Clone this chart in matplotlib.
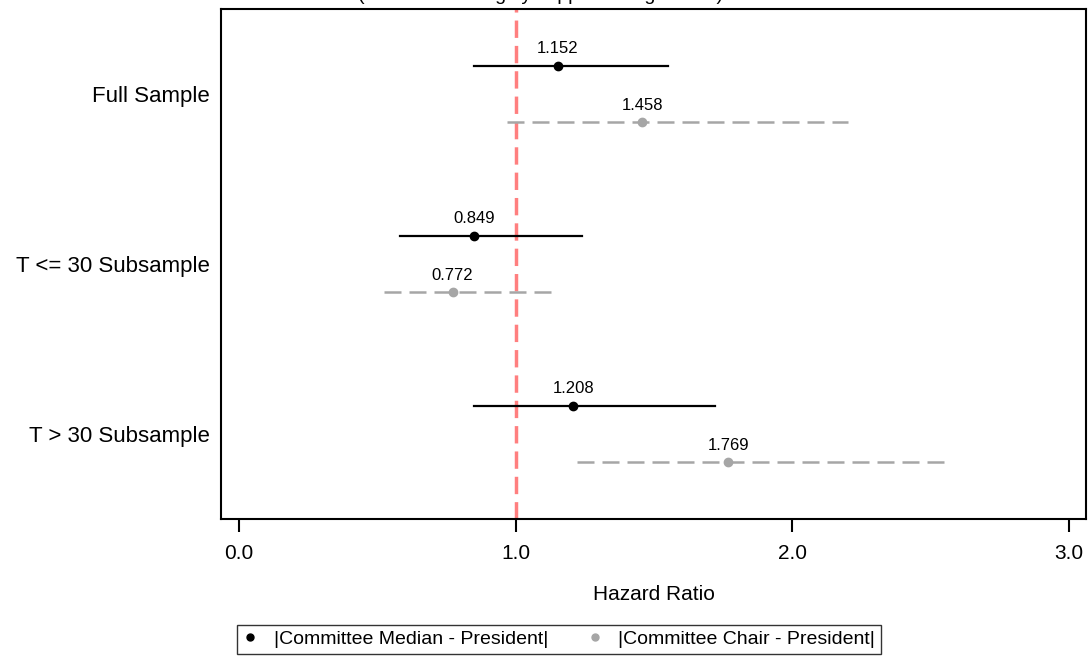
import matplotlib
matplotlib.use("Agg")
import matplotlib.pyplot as plt
from matplotlib.lines import Line2D

plt.rcParams["font.family"] = ["Liberation Sans", "DejaVu Sans"]

# data
groups = ["Full Sample", "T <= 30 Subsample", "T > 30 Subsample"]
median_hr = [1.152, 0.849, 1.208]
median_lo = [0.849, 0.582, 0.849]
median_hi = [1.550, 1.240, 1.720]
chair_hr = [1.458, 0.772, 1.769]
chair_lo = [0.969, 0.524, 1.222]
chair_hi = [2.201, 1.135, 2.562]
series_names = ["|Committee Median - President|", "|Committee Chair - President|"]
xticks = [0.0, 1.0, 2.0, 3.0]
title_text = "(Restricted to highly supported legislation)"

fig = plt.figure(figsize=(10.91, 6.68), dpi=100)
ax = fig.add_axes([0.2026, 0.2231, 0.7928, 0.7634])

off = 1 / 6
black = "#000000"
grey = "#a6a6a6"

# reference line at HR = 1
ax.axvline(1.0, color="red", alpha=0.5, lw=2.5, ls=(0, (5, 2.3)), zorder=1)

for i, g in enumerate(groups):
    y = i + 1
    yb = y - off
    yg = y + off
    ax.plot([median_lo[i], median_hi[i]], [yb, yb], color=black, lw=1.6, zorder=2)
    ax.plot(median_hr[i], yb, "o", color=black, ms=6, zorder=3)
    ax.text(median_hr[i], yb - 0.1, f"{median_hr[i]:.3f}", ha="center", va="center", fontsize=12)
    ax.plot([chair_lo[i], chair_hi[i]], [yg, yg], color=grey, lw=1.8,
            ls=(0, (6.8, 3.2)), zorder=2)
    ax.plot(chair_hr[i], yg, "o", color=grey, ms=6, zorder=3)
    ax.text(chair_hr[i], yg - 0.1, f"{chair_hr[i]:.3f}", ha="center", va="center", fontsize=12)

ax.set_xlim(-0.065, 3.061)
ax.set_ylim(3.5, 0.5)
ax.set_xticks(xticks)
ax.set_xticklabels([f"{t:.1f}" for t in xticks], fontsize=15)
ax.set_yticks(range(1, len(groups) + 1))
ax.set_yticklabels(groups, fontsize=16)
ax.tick_params(axis="y", length=0, pad=8)
ax.tick_params(axis="x", length=9, width=1.5, pad=9)
for s in ax.spines.values():
    s.set_linewidth(1.5)
ax.set_xlabel("Hazard Ratio", fontsize=15, labelpad=16)

# title sits above the canvas, only its descenders show (as in the reference)
fig.text(0.495, 1.0, title_text, ha="center", va="baseline", fontsize=14)

handles = [Line2D([], [], ls="none", marker="o", color=black, ms=5),
           Line2D([], [], ls="none", marker="o", color=grey, ms=5)]
leg = fig.legend(handles, series_names, loc="center", bbox_to_anchor=(0.512, 0.0427),
                 ncol=2, fontsize=14, frameon=True, fancybox=False, edgecolor="black",
                 handlelength=0.8, handletextpad=0.8, columnspacing=2.0, borderpad=0.3)
leg.get_frame().set_linewidth(1.0)

fig.savefig("out.png", dpi=100)
